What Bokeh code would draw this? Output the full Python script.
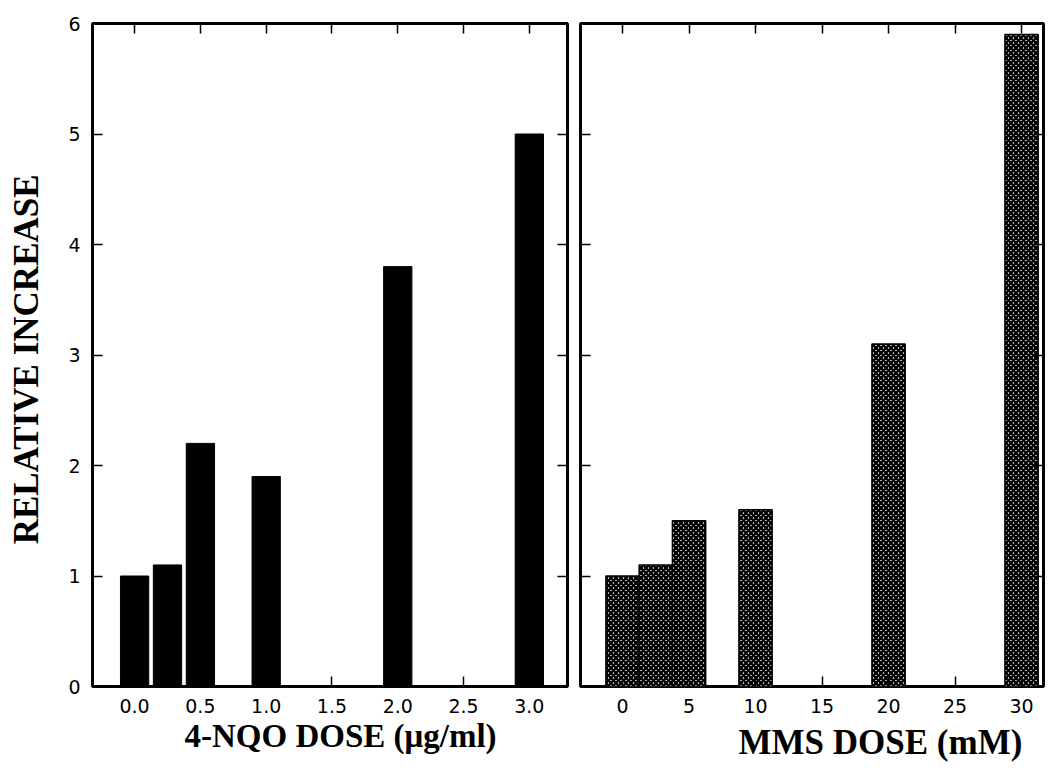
from bokeh.plotting import figure
from bokeh.models import Range1d, LinearAxis, FixedTicker, NumeralTickFormatter, Title
from bokeh.layouts import row
from bokeh.embed import file_html
from bokeh.resources import INLINE

# ---- data ----
nqo_dose = [0.0, 0.25, 0.5, 1.0, 2.0, 3.0]
nqo_increase = [1.0, 1.1, 2.2, 1.9, 3.8, 5.0]
mms_dose = [0, 2.5, 5, 10, 20, 30]
mms_increase = [1.0, 1.1, 1.5, 1.6, 3.1, 5.9]
nqo_ticks = [0.0, 0.5, 1.0, 1.5, 2.0, 2.5, 3.0]
mms_ticks = [0, 5, 10, 15, 20, 25, 30]
y_ticks = [0, 1, 2, 3, 4, 5, 6]

nqo_title = "4-NQO DOSE (\u03bcg/ml)"
mms_title = "MMS DOSE (mM)"
y_title = "RELATIVE  INCREASE"

TICK_FONT = "DejaVu Sans"
LABEL_FONT = "Liberation Serif"


def style_axis(ax, ticks, show_labels=True):
    ax.ticker = FixedTicker(ticks=ticks)
    ax.minor_tick_line_color = None
    ax.major_tick_in = 10
    ax.major_tick_out = 0
    ax.major_tick_line_width = 1.5
    ax.major_tick_line_color = "black"
    ax.axis_line_color = None
    ax.major_label_text_font = TICK_FONT
    ax.major_label_text_color = "black"
    ax.major_label_text_font_size = "19px"
    if show_labels:
        ax.major_label_standoff = 12
    else:
        ax.major_label_overrides = {t: "" for t in ticks}
        ax.major_label_standoff = 0


def base_fig(x_range, frame_w, bl, br):
    p = figure(
        frame_width=frame_w, frame_height=663,
        x_range=x_range, y_range=Range1d(0, 6),
        min_border_left=bl, min_border_right=br,
        min_border_top=23, min_border_bottom=84,
        output_backend="svg", toolbar_location=None,
    )
    p.grid.visible = False
    p.outline_line_color = "black"
    p.outline_line_width = 3
    p.background_fill_color = "white"
    p.border_fill_color = "white"
    return p


def add_title(p, text, offset, size, standoff):
    p.add_layout(Title(text=text, align="left", offset=offset,
                       text_font=LABEL_FONT, text_font_style="bold",
                       text_font_size=size, text_color="black",
                       standoff=standoff), "below")


# ---- left panel: 4-NQO ----
p1 = base_fig(Range1d(-0.32, 3.29), 475, 92, 6)
p1.vbar(x=nqo_dose, top=nqo_increase, bottom=0, width=0.215,
        fill_color="black", line_color="black", line_width=1)
style_axis(p1.xaxis[0], nqo_ticks)
p1.xaxis[0].formatter = NumeralTickFormatter(format="0.0")
style_axis(p1.yaxis[0], y_ticks)
p1.yaxis[0].axis_label = y_title
p1.yaxis[0].axis_label_text_font = LABEL_FONT
p1.yaxis[0].axis_label_text_font_style = "bold"
p1.yaxis[0].axis_label_text_font_size = "35px"
p1.yaxis[0].axis_label_text_color = "black"
p1.yaxis[0].axis_label_standoff = 19
top1 = LinearAxis()
style_axis(top1, nqo_ticks, show_labels=False)
p1.add_layout(top1, "above")
right1 = LinearAxis()
style_axis(right1, y_ticks, show_labels=False)
p1.add_layout(right1, "right")
add_title(p1, nqo_title, 92, "33px", 0)

# ---- right panel: MMS ----
p2 = base_fig(Range1d(-3.16, 31.65), 463, 7, 2)
p2.vbar(x=mms_dose, top=mms_increase, bottom=0, width=2.5,
        fill_color="white", line_color="black", line_width=1.5,
        hatch_pattern="diagonal_cross", hatch_color="black",
        hatch_scale=5, hatch_weight=2.6)
style_axis(p2.xaxis[0], mms_ticks)
style_axis(p2.yaxis[0], y_ticks, show_labels=False)
top2 = LinearAxis()
style_axis(top2, mms_ticks, show_labels=False)
p2.add_layout(top2, "above")
right2 = LinearAxis()
style_axis(right2, y_ticks, show_labels=False)
p2.add_layout(right2, "right")
add_title(p2, mms_title, 158, "35px", 10)

layout = row(p1, p2, spacing=0)
open("out.html", "w").write(file_html(layout, INLINE))
